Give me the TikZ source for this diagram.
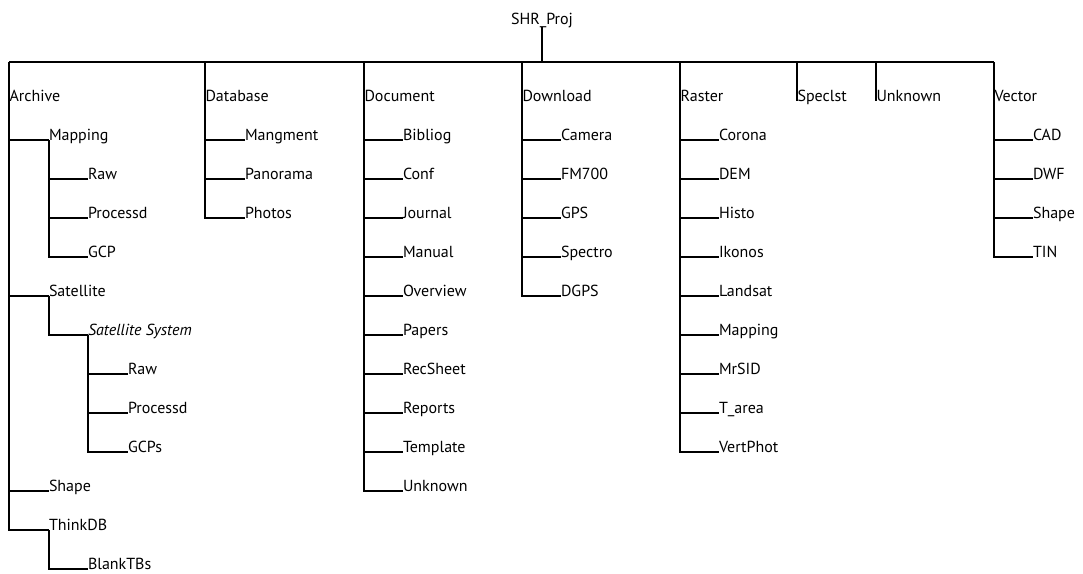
\documentclass[tikz,border=0pt]{standalone}
\usepackage{fontspec}
\setmainfont{PT Sans}
\usepackage{tikz}
\usetikzlibrary{positioning}

\begin{document}
\begin{tikzpicture}[
  x=1pt, y=-1pt,
  line width=1.5pt,
  item/.style={anchor=base west, inner sep=0pt, outer sep=0pt,
    font=\fontsize{16}{19}\selectfont},
  top/.style={item, inner xsep=0.5pt},
  rootnode/.style={anchor=base, inner sep=0pt, outer sep=0pt,
    font=\fontsize{16}{19}\selectfont},
]
  \useasboundingbox (0,0) rectangle (1083,573);
  \coordinate (bar) at (0,62);

  % root and top level folders
  \node[rootnode] (root) at (542,24) {SHR\_Proj};
  \node[top] (archive)  at (9,101)   {Archive};
  \node[top] (database) at (205,101) {Database};
  \node[top] (document) at (364,101) {Document};
  \node[top] (download) at (522,101) {Download};
  \node[top] (raster)   at (680,101) {Raster};
  \node[top] (speclst)  at (797,101) {Speclst};
  \node[top] (unknown)  at (876,101) {Unknown};
  \node[top] (vector)   at (994,101) {Vector};

  \draw (root.south) -- (root.south |- bar);
  \draw (archive.base west |- bar) -- (vector.base west |- bar);
  \draw (archive.base west |- bar) -- (archive.base west);
  \draw (database.base west |- bar) -- (database.base west);
  \draw (document.base west |- bar) -- (document.base west);
  \draw (download.base west |- bar) -- (download.base west);
  \draw (raster.base west |- bar) -- (raster.base west);
  \draw (speclst.base west |- bar) -- (speclst.base west);
  \draw (unknown.base west |- bar) -- (unknown.base west);
  \draw (vector.base west |- bar) -- (vector.base west);

  % Archive
  \node[item] (mapping)   at (49,140)  {Mapping};
  \node[item] (mapraw)    at (88,179)  {Raw};
  \node[item] (mapproc)   at (88,218)  {Processd};
  \node[item] (mapgcp)    at (88,257)  {GCP};
  \node[item] (satellite) at (49,296)  {Satellite};
  \node[item] (satsys)    at (88,335)  {\itshape Satellite System};
  \node[item] (satraw)    at (128,374) {Raw};
  \node[item] (satproc)   at (128,413) {Processd};
  \node[item] (satgcps)   at (128,452) {GCPs};
  \node[item] (arcshape)  at (49,491)  {Shape};
  \node[item] (thinkdb)   at (49,530)  {ThinkDB};
  \node[item] (blanktbs)  at (88,569)  {BlankTBs};

  \draw (archive.base west) |- (mapping.base west);
  \draw (archive.base west) |- (satellite.base west);
  \draw (archive.base west) |- (arcshape.base west);
  \draw (archive.base west) |- (thinkdb.base west);
  \draw (mapping.base west) |- (mapraw.base west);
  \draw (mapping.base west) |- (mapproc.base west);
  \draw (mapping.base west) |- (mapgcp.base west);
  \draw (satellite.base west) |- (satsys.base west);
  \draw (satsys.base west) |- (satraw.base west);
  \draw (satsys.base west) |- (satproc.base west);
  \draw (satsys.base west) |- (satgcps.base west);
  \draw (thinkdb.base west) |- (blanktbs.base west);

  % Database
  \node[item] (mangment) at (245,140) {Mangment};
  \node[item] (panorama) at (245,179) {Panorama};
  \node[item] (photos)   at (245,218) {Photos};

  \draw (database.base west) |- (mangment.base west);
  \draw (database.base west) |- (panorama.base west);
  \draw (database.base west) |- (photos.base west);

  % Document
  \node[item] (bibliog)  at (403,140) {Bibliog};
  \node[item] (conf)     at (403,179) {Conf};
  \node[item] (journal)  at (403,218) {Journal};
  \node[item] (manual)   at (403,257) {Manual};
  \node[item] (overview) at (403,296) {Overview};
  \node[item] (papers)   at (403,335) {Papers};
  \node[item] (recsheet) at (403,374) {RecSheet};
  \node[item] (reports)  at (403,413) {Reports};
  \node[item] (template) at (403,452) {Template};
  \node[item] (docunkn)  at (403,491) {Unknown};

  \draw (document.base west) |- (bibliog.base west);
  \draw (document.base west) |- (conf.base west);
  \draw (document.base west) |- (journal.base west);
  \draw (document.base west) |- (manual.base west);
  \draw (document.base west) |- (overview.base west);
  \draw (document.base west) |- (papers.base west);
  \draw (document.base west) |- (recsheet.base west);
  \draw (document.base west) |- (reports.base west);
  \draw (document.base west) |- (template.base west);
  \draw (document.base west) |- (docunkn.base west);

  % Download
  \node[item] (camera)  at (561,140) {Camera};
  \node[item] (fm700)   at (561,179) {FM700};
  \node[item] (gps)     at (561,218) {GPS};
  \node[item] (spectro) at (561,257) {Spectro};
  \node[item] (dgps)    at (561,296) {DGPS};

  \draw (download.base west) |- (camera.base west);
  \draw (download.base west) |- (fm700.base west);
  \draw (download.base west) |- (gps.base west);
  \draw (download.base west) |- (spectro.base west);
  \draw (download.base west) |- (dgps.base west);

  % Raster
  \node[item] (corona)   at (719,140) {Corona};
  \node[item] (dem)      at (719,179) {DEM};
  \node[item] (histo)    at (719,218) {Histo};
  \node[item] (ikonos)   at (719,257) {Ikonos};
  \node[item] (landsat)  at (719,296) {Landsat};
  \node[item] (rasmap)   at (719,335) {Mapping};
  \node[item] (mrsid)    at (719,374) {MrSID};
  \node[item] (tarea)    at (719,413) {T\_area};
  \node[item] (vertphot) at (719,452) {VertPhot};

  \draw (raster.base west) |- (corona.base west);
  \draw (raster.base west) |- (dem.base west);
  \draw (raster.base west) |- (histo.base west);
  \draw (raster.base west) |- (ikonos.base west);
  \draw (raster.base west) |- (landsat.base west);
  \draw (raster.base west) |- (rasmap.base west);
  \draw (raster.base west) |- (mrsid.base west);
  \draw (raster.base west) |- (tarea.base west);
  \draw (raster.base west) |- (vertphot.base west);

  % Vector
  \node[item] (cad)      at (1033,140) {CAD};
  \node[item] (dwf)      at (1033,179) {DWF};
  \node[item] (vecshape) at (1033,218) {Shape};
  \node[item] (tin)      at (1033,257) {TIN};

  \draw (vector.base west) |- (cad.base west);
  \draw (vector.base west) |- (dwf.base west);
  \draw (vector.base west) |- (vecshape.base west);
  \draw (vector.base west) |- (tin.base west);
\end{tikzpicture}
\end{document}
